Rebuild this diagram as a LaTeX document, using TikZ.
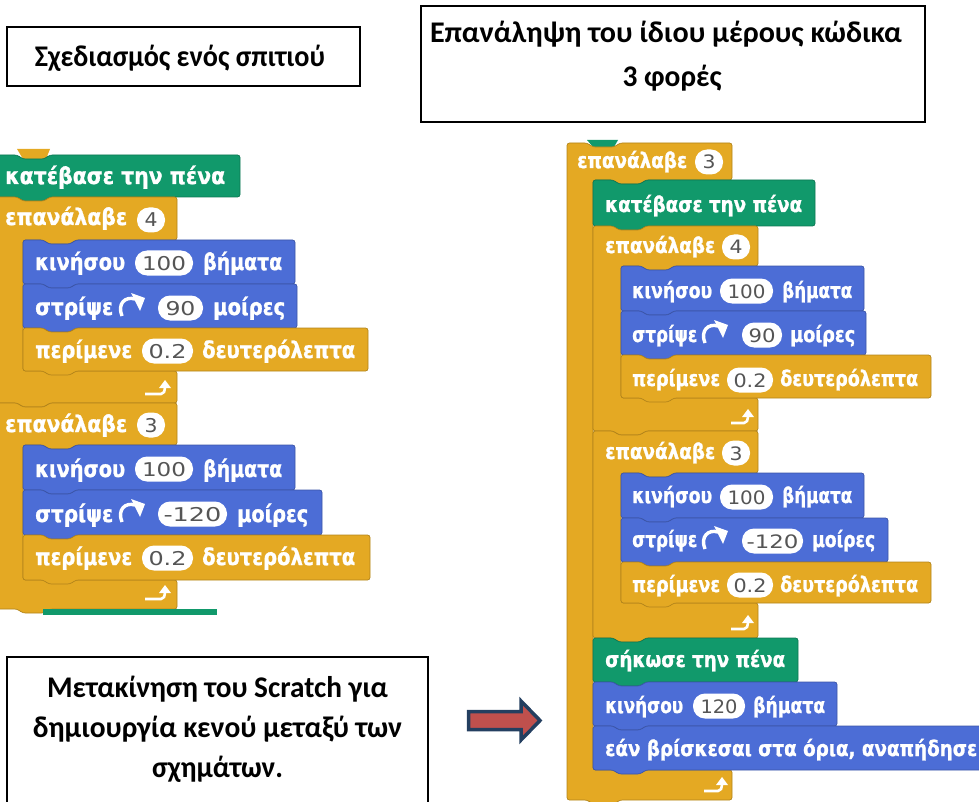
\documentclass[tikz,border=0pt]{standalone}
\usepackage{fontspec}
\setmainfont{Carlito}
\newfontfamily\scfont{DejaVu Sans}[BoldFeatures={FakeBold=1.2}]
\definecolor{scblue}{HTML}{4C6DD6}
\definecolor{scyellow}{HTML}{E4A923}
\definecolor{scgreen}{HTML}{11996B}
\definecolor{inpgrey}{HTML}{555555}
\definecolor{arrred}{HTML}{C0504D}
\definecolor{arrblue}{HTML}{243F60}
\newlength\fitlen
\newcommand\fitw[2]{\settowidth{\fitlen}{#2}\pgfmathsetmacro\fitratio{#1/\fitlen}\scalebox{\fitratio}[1]{#2}}
% stack block: x1,y1,x2,y2,colour
\newcommand\cmdblk[5]{\path[fill=#5,draw=#5!78!black,line width=0.7,rounded corners=2.5]
 (#1,#2) -- ({#1+20},#2) -- ({#1+26},{#2+4}) -- ({#1+47},{#2+4}) -- ({#1+53},#2) -- (#3,#2) -- (#3,#4)
 -- ({#1+53},#4) -- ({#1+47},{#4+4}) -- ({#1+26},{#4+4}) -- ({#1+20},#4) -- (#1,#4) -- cycle;}
% C block: x1,y1,x2,yA,bar,yB,y2,colour
\newcommand\cblk[8]{\path[fill=#8,draw=#8!78!black,line width=0.7,rounded corners=2.5]
 (#1,#2) -- ({#1+20},#2) -- ({#1+26},{#2+4}) -- ({#1+47},{#2+4}) -- ({#1+53},#2) -- (#3,#2) -- (#3,#4)
 -- ({#1+#5+53},#4) -- ({#1+#5+47},{#4+4}) -- ({#1+#5+26},{#4+4}) -- ({#1+#5+20},#4) -- ({#1+#5},#4)
 -- ({#1+#5},#6) -- (#3,#6) -- (#3,#7)
 -- ({#1+53},#7) -- ({#1+47},{#7+4}) -- ({#1+26},{#7+4}) -- ({#1+20},#7) -- (#1,#7) -- cycle;}
% input oval: name,x1,x2,cy,text,style
\newcommand\inp[6]{\path[fill=white,rounded corners=12] (#2,{#4-12.5}) rectangle (#3,{#4+12.5});
 \node[#6] (#1) at ({(#2+#3)/2},{#4+7}) {#5};}
% loop arrow icon: x, ybottom, width
\newcommand\loopicon[3]{\draw[white,line width=2.6] (#1,{#2-3}) -- ({#1+#3-9},{#2-3}) to[out=0,in=-90] ({#1+#3-5},{#2-9});
 \fill[white] ({#1+#3-11},{#2-9}) -- ({#1+#3+1},{#2-9}) -- ({#1+#3-5},{#2-17}) -- cycle;}
% turn-right icon: x, cy
\newcommand\roticon[2]{\draw[white,line width=3.4] ({#1+4},{#2+9}) .. controls ({#1-1},{#2-3}) and ({#1+7},{#2-11}) .. ({#1+17},{#2-8});
 \fill[white] ({#1+13},{#2-14}) -- ({#1+27},{#2-9}) -- ({#1+22},{#2+4}) -- cycle;}
\tikzset{
 btext/.style={anchor=base west,inner sep=0,text=white,font=\scfont\bfseries\fontsize{23}{23}\selectfont},
 rtext/.style={btext,font=\scfont\bfseries\fontsize{21.5}{21.5}\selectfont},
 itext/.style={anchor=base,inner sep=0,text=inpgrey,font=\scfont\fontsize{19}{19}\selectfont},
 ritext/.style={itext,font=\scfont\fontsize{18.5}{18.5}\selectfont},
 boxline/.style={draw=black,line width=1.8},
 boxtext/.style={anchor=base,inner sep=0,text=black,font=\bfseries\fontsize{30}{30}\selectfont}
}
\begin{document}
\begin{tikzpicture}[x=1pt,y=-1pt]
\useasboundingbox (0,0) rectangle (979,802);
\clip (0,0) rectangle (979,802);
% ---- text boxes ----
\node[boxline,minimum width=353pt,minimum height=59pt,inner sep=0] (b1) at (183.5,56.5) {};
\node[boxtext] (t1) at (180,67) {\fitw{290}{Σχεδιασμός ενός σπιτιού}};
\node[boxline,minimum width=504pt,minimum height=116pt,inner sep=0] (b2) at (673,64) {};
\node[boxtext] (t2a) at (666,43) {\fitw{472}{Επανάληψη του ίδιου μέρους κώδικα}};
\node[boxtext] (t2b) at (672,87) {\fitw{99}{3 φορές}};
\node[boxline,minimum width=421pt,minimum height=180pt,inner sep=0] (b3) at (217.5,747) {};
\node[boxtext] (t3a) at (217.5,697) {\fitw{341}{Μετακίνηση του Scratch για}};
\node[boxtext] (t3b) at (217.5,737) {\fitw{369}{δημιουργία κενού μεταξύ των}};
\node[boxtext] (t3c) at (217.5,777) {\fitw{131}{σχημάτων.}};
% ---- arrow ----
\path[fill=arrred,draw=arrblue,line width=3.5,line join=miter]
 (468.5,711.5) -- (521,711.5) -- (521,701) -- (540,720.5) -- (521,740) -- (521,729.5) -- (468.5,729.5) -- cycle;
% ---- left stack ----
\begin{scope}
\clip (0,140) rectangle (420,614);
\path[fill=scyellow] (17,149) -- (50,149) -- (46,159) -- (23,159) -- cycle;
\cmdblk{-3}{155}{240}{197}{scgreen}
\cblk{-3}{197}{177}{240}{26}{371}{403}{scyellow}
\cmdblk{23}{240}{295}{284}{scblue}
\cmdblk{23}{284}{297}{328}{scblue}
\cmdblk{23}{328}{368}{371}{scyellow}
\cblk{-3}{403}{177}{445}{26}{580}{609}{scyellow}
\cmdblk{23}{445}{295}{490}{scblue}
\cmdblk{23}{490}{322}{535}{scblue}
\cmdblk{23}{535}{370}{580}{scyellow}
\path[fill=scgreen] (43,609) rectangle (217,620);
\loopicon{145}{397}{25}
\loopicon{145}{602}{25}
\roticon{118}{307}
\roticon{118}{513}
\node[btext] (l1) at (5,184) {\fitw{220}{κατέβασε την πένα}};
\node[btext] (l2) at (5,225) {\fitw{122}{επανάλαβε}};
\inp{l2i}{137}{165}{220}{\fitw{13}{4}}{itext}
\node[btext] (l3) at (35,270) {\fitw{90}{κινήσου}};
\inp{l3i}{135}{193}{263}{\fitw{44}{100}}{itext}
\node[btext] (l3b) at (203,270) {\fitw{79}{βήματα}};
\node[btext] (l4) at (35,315) {\fitw{78}{στρίψε}};
\inp{l4i}{158}{203}{308}{\fitw{30}{90}}{itext}
\node[btext] (l4b) at (213,315) {\fitw{72}{μοίρες}};
\node[btext] (l5) at (35,358) {\fitw{97}{περίμενε}};
\inp{l5i}{142}{193}{351}{\fitw{38}{0.2}}{itext}
\node[btext] (l5b) at (202,358) {\fitw{153}{δευτερόλεπτα}};
\node[btext] (l6) at (5,432) {\fitw{122}{επανάλαβε}};
\inp{l6i}{137}{165}{425}{\fitw{13}{3}}{itext}
\node[btext] (l7) at (35,477) {\fitw{90}{κινήσου}};
\inp{l7i}{135}{193}{469}{\fitw{44}{100}}{itext}
\node[btext] (l7b) at (203,477) {\fitw{79}{βήματα}};
\node[btext] (l8) at (35,522) {\fitw{78}{στρίψε}};
\inp{l8i}{158}{227}{514}{\fitw{58}{-120}}{itext}
\node[btext] (l8b) at (237,522) {\fitw{71}{μοίρες}};
\node[btext] (l9) at (35,565) {\fitw{97}{περίμενε}};
\inp{l9i}{142}{193}{558}{\fitw{38}{0.2}}{itext}
\node[btext] (l9b) at (202,565) {\fitw{153}{δευτερόλεπτα}};
\end{scope}
% ---- right stack ----
\path[fill=scgreen] (587,140) -- (618,140) -- (614,147) -- (593,147) -- cycle;
\cblk{567}{143}{732}{180}{26}{770}{800}{scyellow}
\cmdblk{593}{180}{815}{226}{scgreen}
\cblk{593}{226}{758}{266}{28}{398}{431}{scyellow}
\cmdblk{621}{266}{864}{311}{scblue}
\cmdblk{621}{311}{866}{355}{scblue}
\cmdblk{621}{355}{931}{398}{scyellow}
\cblk{593}{431}{758}{473}{28}{603}{638}{scyellow}
\cmdblk{621}{473}{864}{518}{scblue}
\cmdblk{621}{518}{888}{562}{scblue}
\cmdblk{621}{562}{931}{603}{scyellow}
\cmdblk{593}{638}{798}{682}{scgreen}
\cmdblk{593}{682}{837}{726}{scblue}
\cmdblk{593}{726}{995}{770}{scblue}
\loopicon{731}{426}{22}
\loopicon{731}{632}{22}
\loopicon{704}{794}{23}
\roticon{701}{334}
\roticon{701}{540}
\node[rtext] (r1) at (577,168) {\fitw{110}{επανάλαβε}};
\inp{r1i}{695}{723}{162}{\fitw{13}{3}}{ritext}
\node[rtext] (r2) at (605,212) {\fitw{197}{κατέβασε την πένα}};
\node[rtext] (r3) at (605,253) {\fitw{110}{επανάλαβε}};
\inp{r3i}{722}{750}{247}{\fitw{13}{4}}{ritext}
\node[rtext] (r4) at (632,298) {\fitw{80}{κινήσου}};
\inp{r4i}{720}{773}{291}{\fitw{38}{100}}{ritext}
\node[rtext] (r4b) at (782,298) {\fitw{70}{βήματα}};
\node[rtext] (r5) at (632,342) {\fitw{65}{στρίψε}};
\inp{r5i}{742}{782}{335}{\fitw{27}{90}}{ritext}
\node[rtext] (r5b) at (790,342) {\fitw{65}{μοίρες}};
\node[rtext] (r6) at (632,386) {\fitw{88}{περίμενε}};
\inp{r6i}{727}{773}{380}{\fitw{33}{0.2}}{ritext}
\node[rtext] (r6b) at (780,386) {\fitw{138}{δευτερόλεπτα}};
\node[rtext] (r7) at (605,459) {\fitw{110}{επανάλαβε}};
\inp{r7i}{722}{750}{453}{\fitw{13}{3}}{ritext}
\node[rtext] (r8) at (632,503) {\fitw{80}{κινήσου}};
\inp{r8i}{720}{773}{497}{\fitw{38}{100}}{ritext}
\node[rtext] (r8b) at (782,503) {\fitw{70}{βήματα}};
\node[rtext] (r9) at (632,547) {\fitw{65}{στρίψε}};
\inp{r9i}{742}{803}{541}{\fitw{52}{-120}}{ritext}
\node[rtext] (r9b) at (812,547) {\fitw{63}{μοίρες}};
\node[rtext] (r10) at (632,592) {\fitw{88}{περίμενε}};
\inp{r10i}{727}{773}{585}{\fitw{33}{0.2}}{ritext}
\node[rtext] (r10b) at (780,592) {\fitw{138}{δευτερόλεπτα}};
\node[rtext] (r11) at (605,667) {\fitw{180}{σήκωσε την πένα}};
\node[rtext] (r12) at (605,713) {\fitw{78}{κινήσου}};
\inp{r12i}{693}{745}{706}{\fitw{37}{120}}{ritext}
\node[rtext] (r12b) at (753,713) {\fitw{72}{βήματα}};
\node[rtext] (r13) at (605,756) {\fitw{372}{εάν βρίσκεσαι στα όρια, αναπήδησε}};
\end{tikzpicture}
\end{document}
